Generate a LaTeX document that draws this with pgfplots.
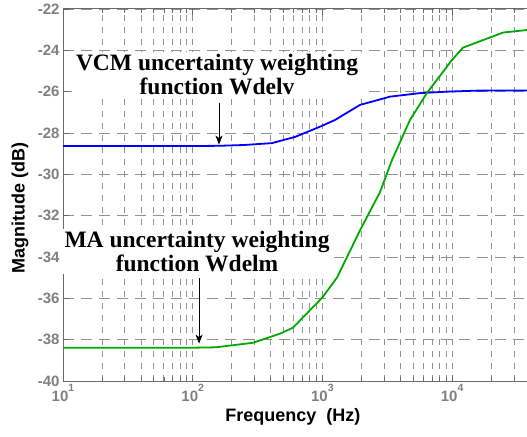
\documentclass[border=0pt]{standalone}
\usepackage{fontspec}
\setmainfont{Liberation Sans}
\newfontfamily\timesfont{Liberation Serif}
\usepackage{pgfplots}
\pgfplotsset{compat=1.18}
\usetikzlibrary{arrows.meta}
\definecolor{tickgray}{RGB}{128,128,128}
\definecolor{axgray}{RGB}{105,105,105}
\definecolor{gridgray}{RGB}{145,145,145}
\definecolor{mgreen}{RGB}{0,170,0}
\newcommand{\supx}[1]{\raisebox{0.62em}{\fontsize{10.5bp}{10.5bp}\selectfont #1}}
\begin{document}
\begin{tikzpicture}
\begin{axis}[
  scale only axis, width=518.8bp, height=372bp,
  xmode=log, xmin=10, xmax=100000, ymin=-40, ymax=-22,
  ytick={-40,-38,-36,-34,-32,-30,-28,-26,-24,-22},
  yticklabels={-40,-38,-36,-34,-32,-30,-28,-26,-24,-22},
  xtick={10,100,1000,10000,100000},
  xticklabels={10\supx{1},10\supx{2},10\supx{3},10\supx{4},{}},
  ticklabel style={font=\fontsize{15bp}{18bp}\selectfont\bfseries, text=tickgray},
  grid=both,
  major x grid style={gridgray, line width=0.9bp, dash pattern=on 6bp off 6bp},
  minor x grid style={gridgray, line width=0.9bp, dash pattern=on 6bp off 6bp},
  major y grid style={gridgray, line width=0.9bp, dash pattern=on 11bp off 7bp},
  axis line style={axgray, line width=1bp},
  tick style={axgray, line width=0.8bp},
  major tick length=6bp, minor tick length=4bp, tick align=inside,
  xlabel={Frequency\ \ (Hz)}, ylabel={Magnitude (dB)},
  label style={font=\fontsize{18bp}{21bp}\selectfont\bfseries, text=black},
  xlabel style={at={(axis description cs:0.4433,-0.0968)}, anchor=center},
  ylabel style={at={(axis description cs:-0.0829,0.465)}, anchor=center},
]
\addplot[blue, line width=1.8bp] coordinates {
(10,-28.63) (100,-28.63) (160,-28.62) (250,-28.58) (408,-28.49) (615,-28.19)
(955,-27.7) (1250,-27.37) (1950,-26.64) (3330,-26.24) (5650,-26.07)
(9100,-26.0) (15600,-25.95) (40000,-25.94)};
\addplot[mgreen, line width=1.8bp] coordinates {
(10,-38.39) (100,-38.39) (150,-38.37) (292,-38.15) (471,-37.71) (593,-37.42)
(1000,-35.96) (1297,-34.99) (1950,-32.71) (2780,-30.86) (3440,-29.31)
(4735,-27.37) (6400,-26.06) (10000,-24.46) (12130,-23.87) (24660,-23.14)
(40000,-23.0)};
\coordinate (vcmT) at (axis cs:154,-25.18);
\coordinate (maT) at (axis cs:108,-33.73);
\coordinate (vA) at (axis cs:159.5,-26.54);
\coordinate (vB) at (axis cs:159.5,-28.56);
\coordinate (mA) at (axis cs:112,-35.04);
\coordinate (mB) at (axis cs:112,-38.19);
\end{axis}
\node[fill=white, inner xsep=4bp, inner ysep=2bp, align=center,
  font=\timesfont\bfseries\fontsize{23.5bp}{24.5bp}\selectfont] at (vcmT)
  {VCM uncertainty weighting\\function Wdelv};
\node[fill=white, inner xsep=4bp, inner ysep=2bp, align=center,
  font=\timesfont\bfseries\fontsize{23.5bp}{24.5bp}\selectfont] at (maT)
  {MA uncertainty weighting\\function Wdelm};
\draw[black, line width=0.9bp, -{Stealth[length=9bp, width=7bp, inset=2.5bp]}] (vA) -- (vB);
\draw[black, line width=0.9bp, -{Stealth[length=9bp, width=7bp, inset=2.5bp]}] (mA) -- (mB);
\pgfresetboundingbox
\path[use as bounding box] ([shift={(-63bp,-56bp)}]current axis.south west) rectangle ([shift={(464bp,381bp)}]current axis.south west);
\end{tikzpicture}
\end{document}
